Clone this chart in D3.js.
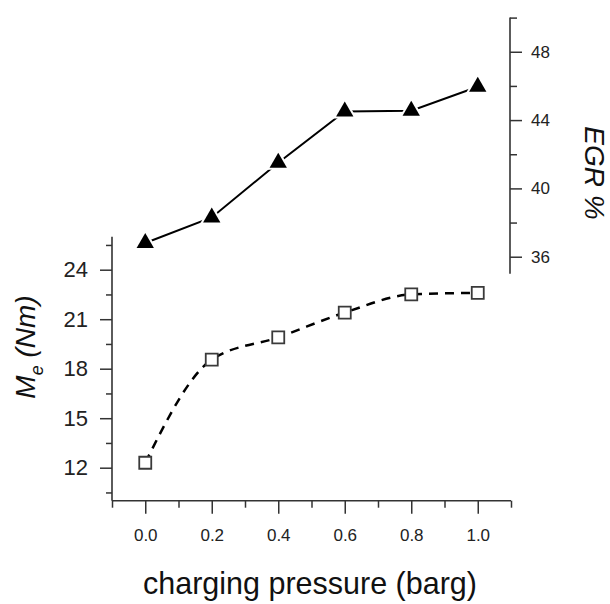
<!DOCTYPE html>
<html>
<head>
<meta charset="utf-8">
<script src="https://cdn.jsdelivr.net/npm/d3@7"></script>
<style>
  body { margin: 0; background: #fff; }
  svg { display: block; font-family: "Liberation Sans", Arial, sans-serif; }
</style>
</head>
<body>
<div id="chart"></div>
<script>
// charging pressure (barg)
const pressure = [0.0, 0.2, 0.4, 0.6, 0.8, 1.0]
// EGR % (filled triangles, right axis)
const egr = [36.8, 38.3, 41.5, 44.5, 44.55, 45.95]
// Me (Nm) (open squares, left axis)
const torque = [12.3, 18.55, 19.9, 21.4, 22.5, 22.6]

const xMajor = [0.0, 0.2, 0.4, 0.6, 0.8, 1.0]
const xMinor = [-0.1, 0.1, 0.3, 0.5, 0.7, 0.9, 1.1]
const leftMajor = [12, 15, 18, 21, 24]
const leftMinor = [10.5, 13.5, 16.5, 19.5, 22.5, 25.5]
const rightMajor = [36, 40, 44, 48]
const rightMinor = [38, 42, 46, 50]

const width = 610, height = 604
const axisColor = '#333'

const svg = d3.select('#chart').append('svg')
    .attr('width', width)
    .attr('height', height)

const x = d3.scaleLinear().domain([-0.1, 1.1]).range([112, 511])
const yLeft = d3.scaleLinear().domain([10, 26]).range([500.7, 236.7])
const yRight = d3.scaleLinear().domain([35, 50]).range([273.8, 17.6])

// styling helper for axes
function styleAxis(g, fontSize) {
    g.select('.domain').remove()
    g.selectAll('line').attr('stroke', axisColor).attr('stroke-width', 1.5)
    g.selectAll('text').attr('fill', '#222').style('font-size', fontSize + 'px')
}

// bottom axis
svg.append('line')
    .attr('x1', x(-0.1)).attr('x2', x(1.1))
    .attr('y1', yLeft(10)).attr('y2', yLeft(10))
    .attr('stroke', axisColor).attr('stroke-width', 1.6)
svg.append('g')
    .attr('transform', `translate(0,${yLeft(10)})`)
    .call(d3.axisBottom(x).tickValues(xMajor).tickSize(13).tickPadding(15).tickFormat(d3.format('.1f')))
    .call(g => styleAxis(g, 17))
svg.append('g')
    .attr('transform', `translate(0,${yLeft(10)})`)
    .call(d3.axisBottom(x).tickValues(xMinor).tickSize(7).tickFormat(''))
    .call(g => styleAxis(g, 17))

// left axis
svg.append('line')
    .attr('x1', x(-0.1)).attr('x2', x(-0.1))
    .attr('y1', yLeft(10)).attr('y2', yLeft(26))
    .attr('stroke', axisColor).attr('stroke-width', 1.6)
svg.append('g')
    .attr('transform', `translate(${x(-0.1)},0)`)
    .call(d3.axisLeft(yLeft).tickValues(leftMajor).tickSize(12).tickPadding(12))
    .call(g => styleAxis(g, 22))
svg.append('g')
    .attr('transform', `translate(${x(-0.1)},0)`)
    .call(d3.axisLeft(yLeft).tickValues(leftMinor).tickSize(6).tickFormat(''))
    .call(g => styleAxis(g, 22))

// right axis
svg.append('line')
    .attr('x1', x(1.1) - 1).attr('x2', x(1.1) - 1)
    .attr('y1', yRight(35)).attr('y2', yRight(50))
    .attr('stroke', axisColor).attr('stroke-width', 1.6)
svg.append('g')
    .attr('transform', `translate(${x(1.1) - 1},0)`)
    .call(d3.axisRight(yRight).tickValues(rightMajor).tickSize(12).tickPadding(9))
    .call(g => styleAxis(g, 17))
svg.append('g')
    .attr('transform', `translate(${x(1.1) - 1},0)`)
    .call(d3.axisRight(yRight).tickValues(rightMinor).tickSize(7).tickFormat(''))
    .call(g => styleAxis(g, 17))

// Me series - dashed smooth curve with open squares
const torqueData = pressure.map((p, i) => ({ p: p, v: torque[i] }))
svg.append('path')
    .datum(torqueData)
    .attr('fill', 'none')
    .attr('stroke', '#000')
    .attr('stroke-width', 2.5)
    .attr('stroke-dasharray', '9,7')
    .attr('d', d3.line().x(d => x(d.p)).y(d => yLeft(d.v)).curve(d3.curveMonotoneX))

svg.append('g').selectAll('path')
    .data(torqueData)
    .join('path')
    .attr('transform', d => `translate(${x(d.p)},${yLeft(d.v)})`)
    .attr('d', d3.symbol(d3.symbolSquare, 144))
    .attr('fill', '#fff')
    .attr('stroke', '#3a3a3a')
    .attr('stroke-width', 1.8)

// EGR series - solid line with filled triangles
const egrData = pressure.map((p, i) => ({ p: p, v: egr[i] }))
svg.append('path')
    .datum(egrData)
    .attr('fill', 'none')
    .attr('stroke', '#000')
    .attr('stroke-width', 2)
    .attr('d', d3.line().x(d => x(d.p)).y(d => yRight(d.v)))

svg.append('g').selectAll('path')
    .data(egrData)
    .join('path')
    .attr('transform', d => `translate(${x(d.p)},${yRight(d.v)})`)
    .attr('d', d3.symbol(d3.symbolTriangle, 130))
    .attr('fill', '#000')
    .attr('stroke', '#fff')
    .attr('stroke-width', 4)
    .style('paint-order', 'stroke')

// axis titles
svg.append('text')
    .attr('x', 310).attr('y', 594)
    .attr('text-anchor', 'middle')
    .attr('fill', '#111')
    .style('font-size', '30.5px')
    .text('charging pressure (barg)')

const leftTitle = svg.append('text')
    .attr('transform', 'translate(35,347) rotate(-90)')
    .attr('text-anchor', 'middle')
    .attr('fill', '#111')
    .style('font-size', '28px')
    .style('font-style', 'italic')
leftTitle.append('tspan').text('M')
leftTitle.append('tspan').attr('dy', 8).style('font-size', '18px').text('e')
leftTitle.append('tspan').attr('dy', -8).text(' (Nm)')

svg.append('text')
    .attr('transform', 'translate(585,173) rotate(90)')
    .attr('text-anchor', 'middle')
    .attr('fill', '#111')
    .style('font-size', '28px')
    .style('font-style', 'italic')
    .text('EGR %')
</script>
</body>
</html>
